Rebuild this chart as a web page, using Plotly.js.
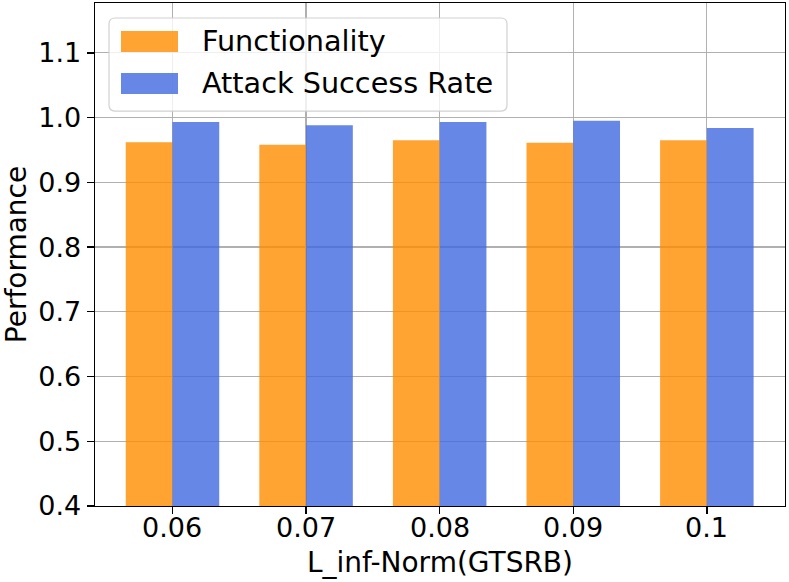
<!DOCTYPE html>
<html>
<head>
<meta charset="utf-8">
<script src="https://cdn.plot.ly/plotly-3.0.1.min.js"></script>
<style>html,body{margin:0;padding:0;background:#fff;}#chart{width:789px;height:582px;}</style>
</head>
<body>
<div id="chart"></div>
<script>
// Data
const categories = ["0.06", "0.07", "0.08", "0.09", "0.1"];
const functionality = [0.962, 0.958, 0.965, 0.961, 0.965];
const attackSuccessRate = [0.993, 0.988, 0.993, 0.995, 0.984];
const yTicks = [0.4, 0.5, 0.6, 0.7, 0.8, 0.9, 1.0, 1.1];
const yTickLabels = ["0.4", "0.5", "0.6", "0.7", "0.8", "0.9", "1.0", "1.1"];
const seriesNames = ["Functionality", "Attack Success Rate"];
const seriesColors = ["rgba(255,140,0,0.8)", "rgba(65,105,225,0.8)"];

const FONT = "DejaVu Sans, sans-serif";

const traces = [
  {type: "bar", x: categories, y: functionality, name: seriesNames[0],
   marker: {color: seriesColors[0], line: {width: 0}}, showlegend: false},
  {type: "bar", x: categories, y: attackSuccessRate, name: seriesNames[1],
   marker: {color: seriesColors[1], line: {width: 0}}, showlegend: false}
];

// custom legend (matplotlib-like) in paper coords
function rr(x0, y0, x1, y1, rx, ry) {
  return `M${x0+rx},${y0} L${x1-rx},${y0} Q${x1},${y0} ${x1},${y0+ry} L${x1},${y1-ry} Q${x1},${y1} ${x1-rx},${y1} L${x0+rx},${y1} Q${x0},${y1} ${x0},${y1-ry} L${x0},${y0+ry} Q${x0},${y0} ${x0+rx},${y0} Z`;
}
const PW = 690, PH = 502.7, PL = 95, PB = 505.7;
const px = v => (v - PL) / PW;
const py = v => (PB - v) / PH;

const shapes = [
  {type: "path", xref: "paper", yref: "paper", layer: "above",
   path: rr(px(109), py(111), px(507), py(18), 6/PW, 6/PH),
   fillcolor: "rgba(255,255,255,0.8)", line: {color: "rgba(204,204,204,0.9)", width: 1.2}},
  {type: "rect", xref: "paper", yref: "paper", layer: "above",
   x0: px(121), x1: px(178), y0: py(52), y1: py(31),
   fillcolor: seriesColors[0], line: {width: 0}},
  {type: "rect", xref: "paper", yref: "paper", layer: "above",
   x0: px(121), x1: px(178), y0: py(94), y1: py(73),
   fillcolor: seriesColors[1], line: {width: 0}}
];
const annotations = [
  {xref: "paper", yref: "paper", x: px(200), y: py(41), xanchor: "left", yanchor: "middle",
   text: seriesNames[0], showarrow: false, font: {family: FONT, size: 28.7, color: "#000"}},
  {xref: "paper", yref: "paper", x: px(200), y: py(83), xanchor: "left", yanchor: "middle",
   text: seriesNames[1], showarrow: false, font: {family: FONT, size: 28.7, color: "#000"}}
];
// x tick labels (matplotlib-like spacing), placed at category index
categories.forEach((c, i) => annotations.push({
  xref: "x", yref: "paper", x: i, y: 0, yshift: -21.5, xanchor: "center", yanchor: "middle",
  text: c, showarrow: false, font: {family: FONT, size: 27, color: "#000"}
}));

const layout = {
  width: 789, height: 582,
  margin: {l: 95, r: 4, t: 3, b: 76.3, pad: 0},
  paper_bgcolor: "#fff", plot_bgcolor: "#fff",
  barmode: "group", bargap: 0.3, bargroupgap: 0,
  font: {family: FONT, size: 27, color: "#000"},
  xaxis: {
    type: "category", range: [-0.58, 4.585],
    showgrid: true, gridcolor: "#b0b0b0", gridwidth: 1.2,
    showline: true, linecolor: "#000", linewidth: 1.4, mirror: true,
    ticks: "outside", ticklen: 7, tickwidth: 1.4, tickcolor: "#000",
    showticklabels: false,
    title: {text: "L_inf-Norm(GTSRB)", font: {family: FONT, size: 28, color: "#000"}},
    zeroline: false, fixedrange: true
  },
  yaxis: {
    range: [0.4, 1.177],
    tickvals: yTicks, ticktext: yTickLabels,
    showgrid: true, gridcolor: "#b0b0b0", gridwidth: 1.2,
    showline: true, linecolor: "#000", linewidth: 1.4, mirror: true,
    ticks: "outside", ticklen: 7, tickwidth: 1.4, tickcolor: "#000",
    tickfont: {family: FONT, size: 27, color: "#000"},
    title: {text: "Performance", font: {family: FONT, size: 28, color: "#000"}, standoff: 22},
    zeroline: false, fixedrange: true
  },
  shapes: shapes,
  annotations: annotations,
  showlegend: false
};

Plotly.newPlot("chart", traces, layout, {displayModeBar: false, staticPlot: true});
</script>
</body>
</html>
